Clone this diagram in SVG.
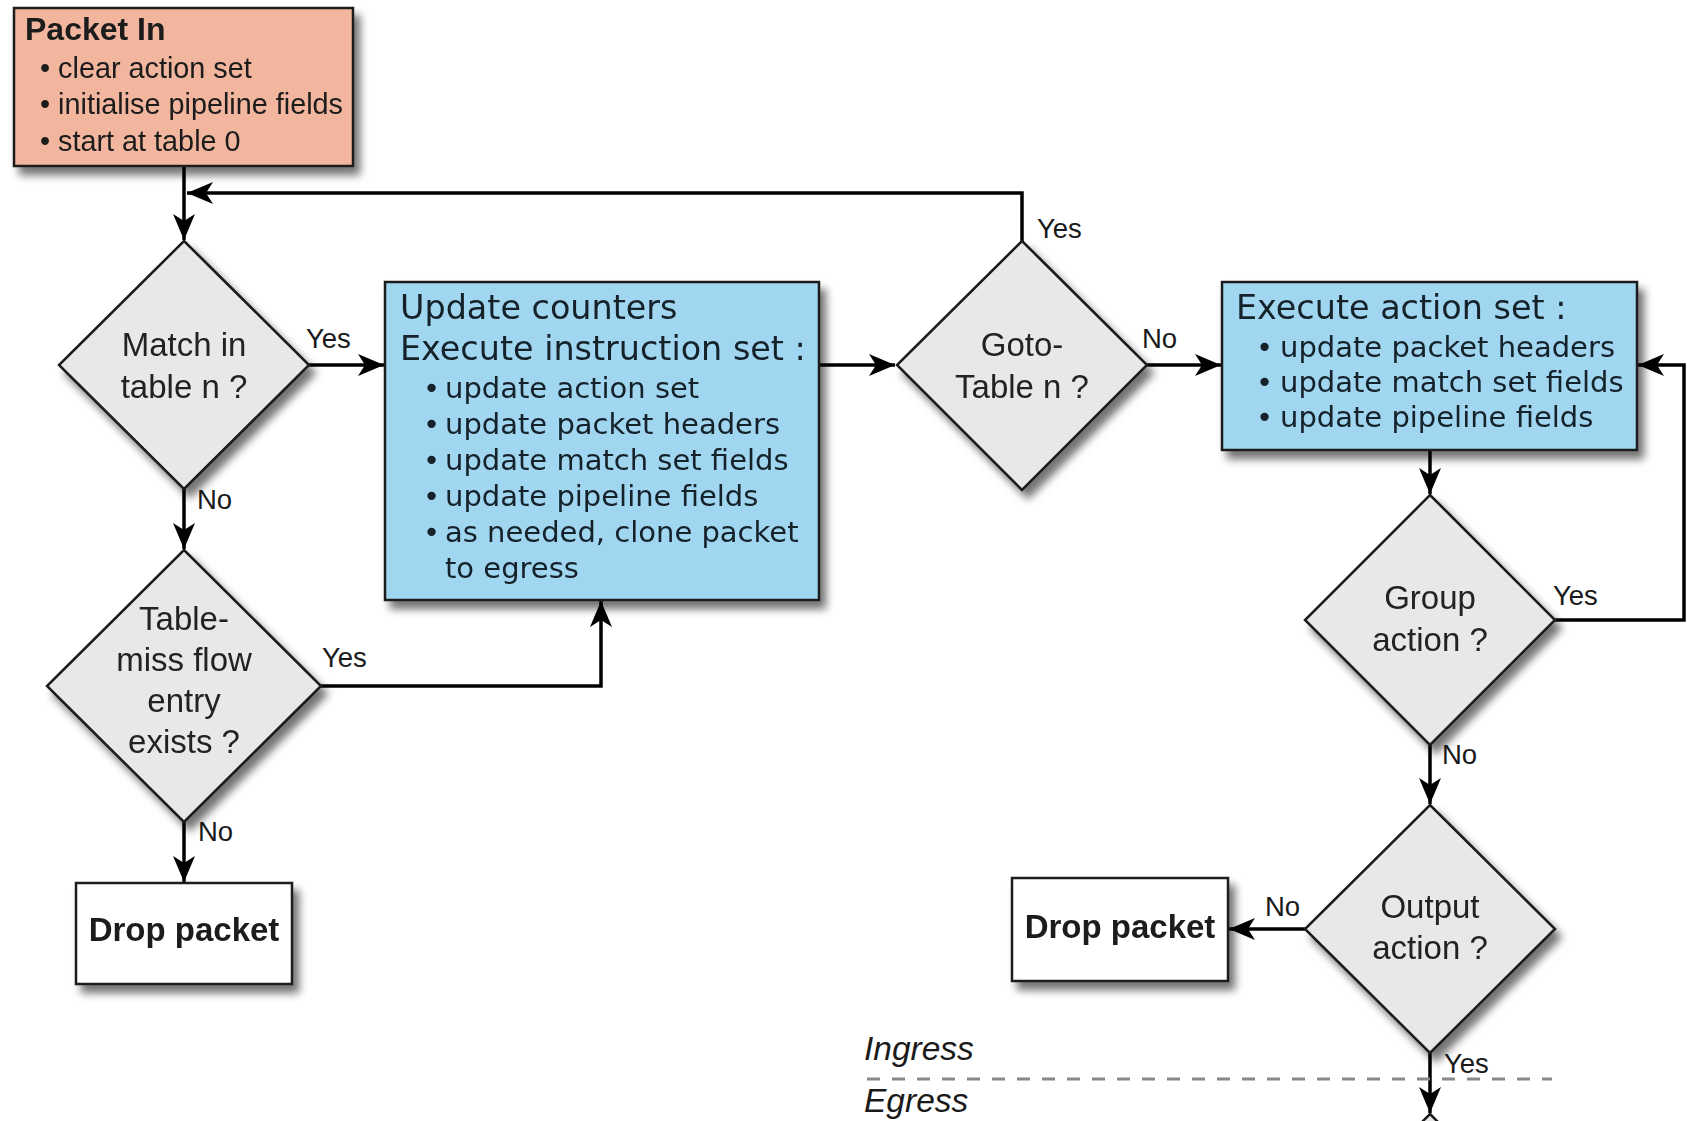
<svg xmlns="http://www.w3.org/2000/svg" width="1687" height="1121" viewBox="0 0 1687 1121">
<style>
  .sans { font-family: "Liberation Sans", Arial, sans-serif; fill: #1a1a1a; }
  .dv { font-family: "DejaVu Sans", Verdana, sans-serif; fill: #14202a; }
  .box { stroke: #1a1a1a; stroke-width: 2.5; }
  .dia { fill: #e8e8e8; stroke: #1a1a1a; stroke-width: 2.5; }
  .lbl { font-family: "Liberation Sans", Arial, sans-serif; font-size: 27.5px; fill: #1a1a1a; }
  .dtxt { font-family: "Liberation Sans", Arial, sans-serif; font-size: 33px; fill: #222; text-anchor: middle; }
  .conn { fill: none; stroke: #000; stroke-width: 3.5; }
</style>
<defs>
  <filter id="sh" x="-20%" y="-20%" width="150%" height="150%">
    <feGaussianBlur in="SourceAlpha" stdDeviation="4"/>
    <feOffset dx="6" dy="8" result="b"/>
    <feComponentTransfer><feFuncA type="linear" slope="0.55"/></feComponentTransfer>
    <feMerge><feMergeNode/><feMergeNode in="SourceGraphic"/></feMerge>
  </filter>
  <marker id="arr" markerUnits="userSpaceOnUse" markerWidth="28" markerHeight="24" refX="26" refY="11" orient="auto">
    <path d="M0,0 L26,11 L0,22 L7,11 Z" fill="#000"/>
  </marker>
</defs>
<rect width="1687" height="1121" fill="#fff"/>

<g id="connectors">
  <path class="conn" d="M184,166 V240" marker-end="url(#arr)"/>
  <path class="conn" d="M1022,241 V193 H187" marker-end="url(#arr)"/>
  <path class="conn" d="M309,365 H384" marker-end="url(#arr)"/>
  <path class="conn" d="M184,489 V549" marker-end="url(#arr)"/>
  <path class="conn" d="M321,686 H601 V601" marker-end="url(#arr)"/>
  <path class="conn" d="M184,822 V882" marker-end="url(#arr)"/>
  <path class="conn" d="M819,365 H895" marker-end="url(#arr)"/>
  <path class="conn" d="M1147,365 H1221" marker-end="url(#arr)"/>
  <path class="conn" d="M1430,450 V494" marker-end="url(#arr)"/>
  <path class="conn" d="M1555,620 H1684 V365 H1638" marker-end="url(#arr)"/>
  <path class="conn" d="M1430,745 V804" marker-end="url(#arr)"/>
  <path class="conn" d="M1305,929 H1229" marker-end="url(#arr)"/>
  <path class="conn" d="M1430,1053 V1113" marker-end="url(#arr)"/>
  <line x1="867" y1="1079" x2="1552" y2="1079" stroke="#888" stroke-width="3" stroke-dasharray="13 12"/>
  <text class="lbl" x="306" y="348">Yes</text>
  <text class="lbl" x="197" y="509">No</text>
  <text class="lbl" x="322" y="667">Yes</text>
  <text class="lbl" x="198" y="841">No</text>
  <text class="lbl" x="1037" y="238">Yes</text>
  <text class="lbl" x="1142" y="348">No</text>
  <text class="lbl" x="1553" y="605">Yes</text>
  <text class="lbl" x="1442" y="764">No</text>
  <text class="lbl" x="1265" y="916">No</text>
  <text class="lbl" x="1444" y="1073">Yes</text>
</g>

<g id="packet-in" filter="url(#sh)">
  <rect class="box" x="14" y="8" width="339" height="158" fill="#F2B69E"/>
  <text class="sans" x="25" y="40" font-size="32" font-weight="bold">Packet In</text>
  <text class="sans" x="40" y="78" font-size="28.8">• clear action set</text>
  <text class="sans" x="40" y="114" font-size="28.8">• initialise pipeline fields</text>
  <text class="sans" x="40" y="151" font-size="28.8">• start at table 0</text>
</g>

<g id="match" filter="url(#sh)">
  <polygon class="dia" points="184,241 309,365 184,489 59,365"/>
  <text class="dtxt" x="184" y="356">Match in</text>
  <text class="dtxt" x="184" y="398">table n ?</text>
</g>

<g id="update" filter="url(#sh)">
  <rect class="box" x="385" y="282" width="434" height="318" fill="#A0D6F0"/>
  <text class="dv" x="400" y="319" font-size="33.4">Update counters</text>
  <text class="dv" x="400" y="360" font-size="33.4">Execute instruction set :</text>
  <g class="dv" font-size="29">
    <text y="398"><tspan x="423">•</tspan><tspan x="445">update action set</tspan></text>
    <text y="434"><tspan x="423">•</tspan><tspan x="445">update packet headers</tspan></text>
    <text y="470"><tspan x="423">•</tspan><tspan x="445">update match set fields</tspan></text>
    <text y="506"><tspan x="423">•</tspan><tspan x="445">update pipeline fields</tspan></text>
    <text y="542"><tspan x="423">•</tspan><tspan x="445">as needed, clone packet</tspan></text>
    <text y="578"><tspan x="445">to egress</tspan></text>
  </g>
</g>

<g id="goto" filter="url(#sh)">
  <polygon class="dia" points="1022,241 1147,365 1022,490 897,365"/>
  <text class="dtxt" x="1022" y="356">Goto-</text>
  <text class="dtxt" x="1022" y="398">Table n ?</text>
</g>

<g id="exec-action" filter="url(#sh)">
  <rect class="box" x="1222" y="282" width="415" height="168" fill="#A0D6F0"/>
  <text class="dv" x="1236" y="319" font-size="33.4">Execute action set :</text>
  <g class="dv" font-size="29">
    <text y="357"><tspan x="1256">•</tspan><tspan x="1280">update packet headers</tspan></text>
    <text y="392"><tspan x="1256">•</tspan><tspan x="1280">update match set fields</tspan></text>
    <text y="427"><tspan x="1256">•</tspan><tspan x="1280">update pipeline fields</tspan></text>
  </g>
</g>

<g id="table-miss" filter="url(#sh)">
  <polygon class="dia" points="184,550 321,686 184,822 47,686"/>
  <text class="dtxt" x="184" y="630">Table-</text>
  <text class="dtxt" x="184" y="671">miss flow</text>
  <text class="dtxt" x="184" y="712">entry</text>
  <text class="dtxt" x="184" y="753">exists ?</text>
</g>

<g id="drop-left" filter="url(#sh)">
  <rect class="box" x="76" y="883" width="216" height="101" fill="#fff"/>
  <text class="sans" x="184" y="941" font-size="33" font-weight="bold" text-anchor="middle">Drop packet</text>
</g>

<g id="group" filter="url(#sh)">
  <polygon class="dia" points="1430,495 1555,620 1430,745 1305,620"/>
  <text class="dtxt" x="1430" y="609">Group</text>
  <text class="dtxt" x="1430" y="651">action ?</text>
</g>

<g id="output" filter="url(#sh)">
  <polygon class="dia" points="1430,805 1555,929 1430,1053 1305,929"/>
  <text class="dtxt" x="1430" y="918">Output</text>
  <text class="dtxt" x="1430" y="959">action ?</text>
</g>

<g id="drop-right" filter="url(#sh)">
  <rect class="box" x="1012" y="878" width="216" height="103" fill="#fff"/>
  <text class="sans" x="1120" y="938" font-size="33" font-weight="bold" text-anchor="middle">Drop packet</text>
</g>

<g id="next-egress">
  <polygon class="dia" points="1430,1114 1555,1239 1430,1364 1305,1239"/>
</g>

<g id="ingress-egress">
  <text class="sans" x="864" y="1060" font-size="33.5" font-style="italic">Ingress</text>
  <text class="sans" x="864" y="1112" font-size="33.5" font-style="italic">Egress</text>
</g>
</svg>
